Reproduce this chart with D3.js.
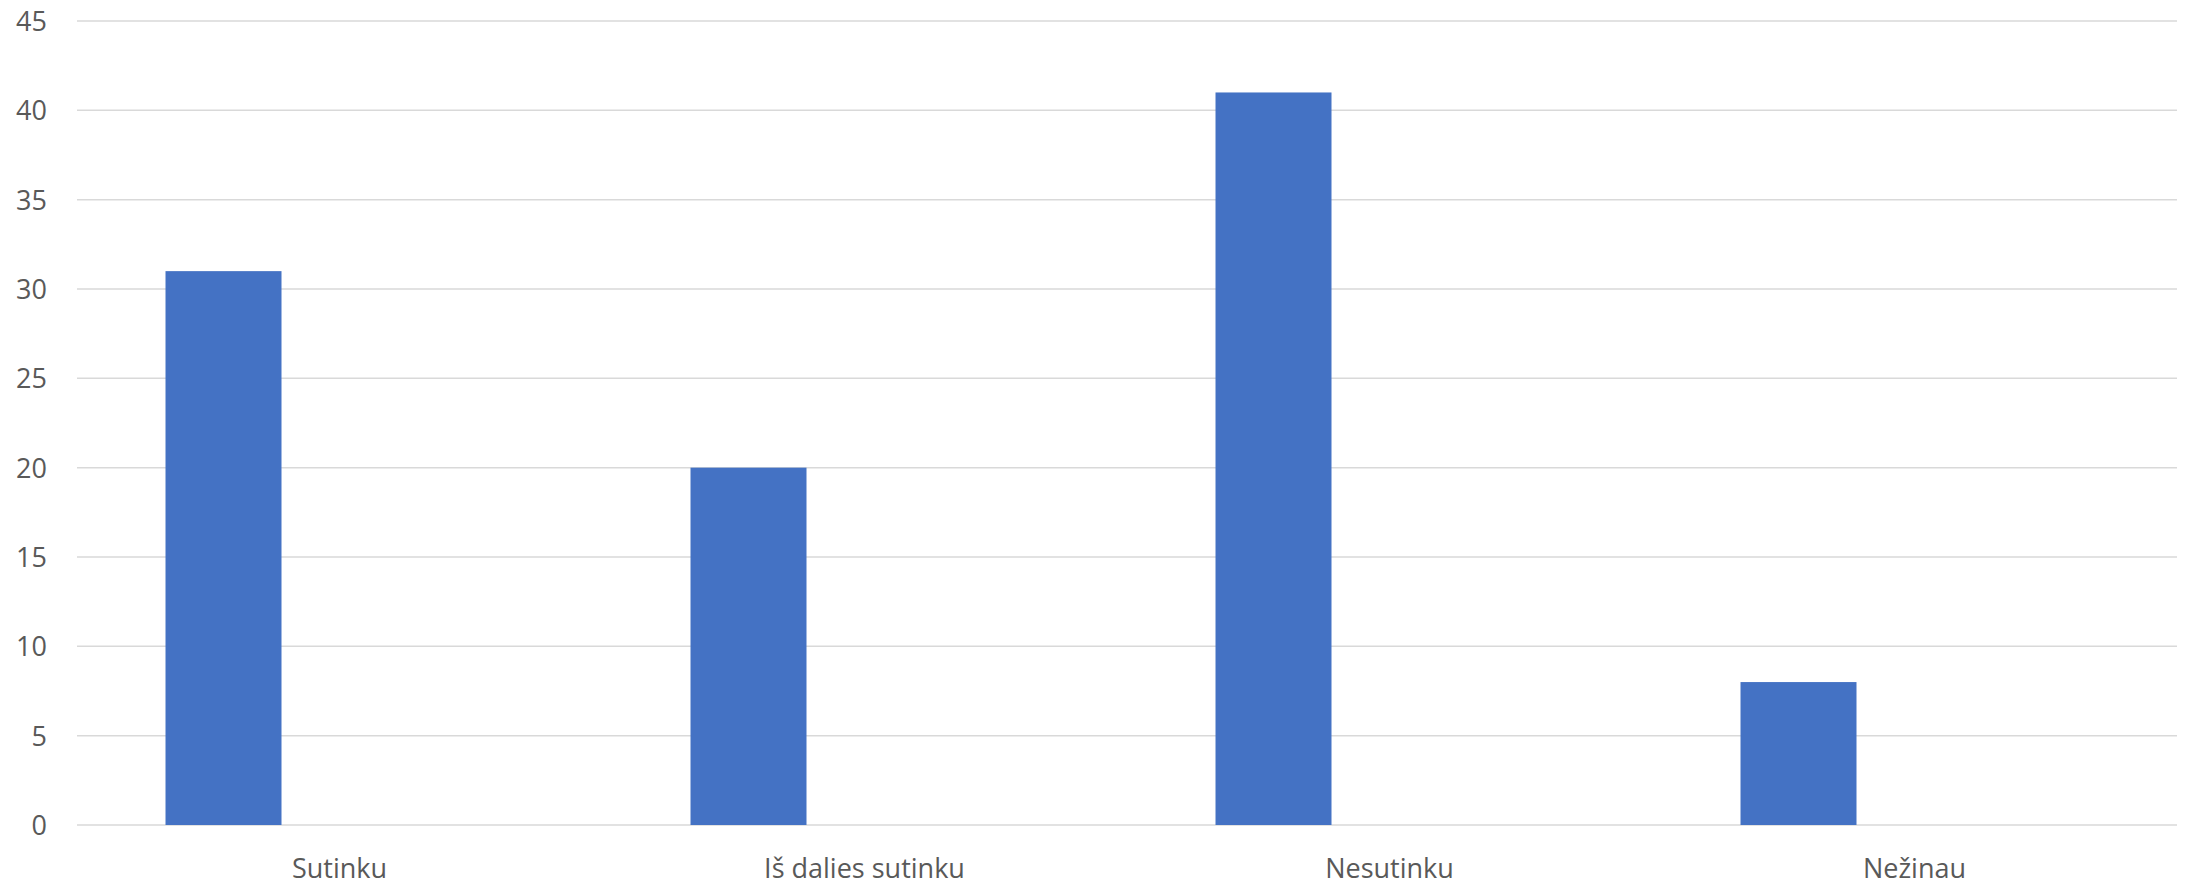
<!DOCTYPE html>
<html>
<head>
<meta charset="utf-8">
<script src="https://cdn.jsdelivr.net/npm/d3@7"></script>
<style>
  html, body { margin: 0; padding: 0; background: #fff; }
  svg { display: block; }
</style>
</head>
<body>
<svg id="chart" width="2190" height="881"></svg>
<script>
const categories = ["Sutinku", "Iš dalies sutinku", "Nesutinku", "Nežinau"];
const series1 = [31, 20, 41, 8];
const seriesSlots = ["Series 1", "Series 2", "Series 3"];
const yTicks = [0, 5, 10, 15, 20, 25, 30, 35, 40, 45];

(function () {
const svg = d3.select("#chart");
const plotLeft = 77, plotRight = 2177, plotTop = 21, plotBottom = 825;
const font = "'Open Sans', 'Noto Sans', sans-serif";

const x0 = d3.scaleBand().domain(categories).range([plotLeft, plotRight]).paddingInner(0).paddingOuter(0);
const x1 = d3.scaleBand().domain(seriesSlots).range([0, x0.bandwidth()]).paddingInner(0).paddingOuter(0.763);
const y = d3.scaleLinear().domain([0, 45]).range([plotBottom, plotTop]);

// gridlines
svg.append("g")
  .selectAll("line")
  .data(yTicks)
  .join("line")
  .attr("x1", plotLeft).attr("x2", plotRight)
  .attr("y1", d => y(d)).attr("y2", d => y(d))
  .attr("stroke", "#d9d9d9")
  .attr("stroke-width", 1.5);

// bars
svg.append("g")
  .selectAll("rect")
  .data(series1.map((v, i) => ({cat: categories[i], v})))
  .join("rect")
  .attr("x", d => x0(d.cat) + x1("Series 1"))
  .attr("y", d => y(d.v))
  .attr("width", x1.bandwidth())
  .attr("height", d => y(0) - y(d.v))
  .attr("fill", "#4472c4");

// y axis labels
const yAxis = d3.axisLeft(y).tickValues(yTicks).tickSize(0).tickPadding(0);
const yg = svg.append("g").attr("transform", `translate(47,0)`).call(yAxis);
yg.select(".domain").remove();
yg.selectAll("text")
  .attr("font-family", font)
  .attr("font-size", 27)
  .attr("fill", "#595959")
  .attr("dy", "0.35em");

// x axis labels
const xAxis = d3.axisBottom(x0).tickSize(0).tickPadding(0);
const xg = svg.append("g").attr("transform", `translate(0,${plotBottom})`).call(xAxis);
xg.select(".domain").remove();
xg.selectAll("text")
  .attr("font-family", font)
  .attr("font-size", 27)
  .attr("fill", "#595959")
  .attr("dy", null)
  .attr("y", 53);
})();
</script>
</body>
</html>
